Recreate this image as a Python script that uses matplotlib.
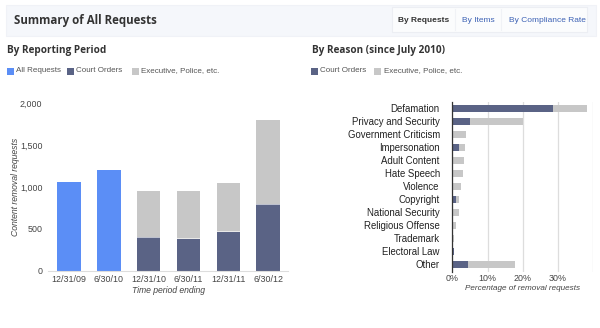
import matplotlib
matplotlib.use("Agg")
import matplotlib.pyplot as plt
from matplotlib.patches import Rectangle

plt.rcParams['font.family'] = ['Liberation Sans', 'DejaVu Sans']

# ---------------- data ----------------
periods = ["12/31/09", "6/30/10", "12/31/10", "6/30/11", "12/31/11", "6/30/12"]
all_requests = [1063, 1197, 0, 0, 0, 0]
period_court = [0, 0, 401, 385, 468, 794]
period_exec = [0, 0, 551, 565, 576, 1004]
left_yticks = [0, 500, 1000, 1500, 2000]
left_yticklabels = ["0", "500", "1,000", "1,500", "2,000"]

reasons = ["Defamation", "Privacy and Security", "Government Criticism", "Impersonation",
           "Adult Content", "Hate Speech", "Violence", "Copyright", "National Security",
           "Religious Offense", "Trademark", "Electoral Law", "Other"]
reason_court = [28.6, 4.9, 0.0, 1.9, 0.3, 0.2, 0.0, 1.1, 0.1, 0.1, 0.3, 0.5, 4.4]
reason_exec = [9.6, 15.2, 3.9, 1.7, 3.1, 2.7, 2.6, 0.8, 1.7, 0.9, 0.1, 0.1, 13.4]
right_xticks = [0, 10, 20, 30, 40]
right_xticklabels = ["0%", "10%", "20%", "30%", ""]

BLUE = "#5b8ef6"
NAVY = "#5a6385"
GRAY = "#c7c7c7"
W, H = 600, 328

fig = plt.figure(figsize=(6, 3.28), dpi=100)
fig.patch.set_facecolor("white")

def fx(px):
    return px / W

def fy(py):
    return 1 - py / H

# ---------------- header ----------------
fig.patches.append(Rectangle((fx(5.5), fy(35.5)), fx(590.5), (30.5) / H, transform=fig.transFigure,
                             facecolor="#f5f7fb", edgecolor="#f0f2f7", lw=0.8))
fig.patches.append(Rectangle((fx(391.5), fy(32)), fx(195), 25 / H, transform=fig.transFigure,
                             facecolor="#fbfcfd", edgecolor="#eceef3", lw=0.8))
fig.text(fx(14), fy(20.5), "Summary of All Requests", family=["Open Sans", "DejaVu Sans"],
         fontweight="bold", fontsize=8.3, color="#333333", va="center", ha="left")
fig.text(fx(398), fy(21), "By Requests", fontsize=6.0, fontweight="bold", color="#333333",
         va="center", ha="left")
fig.text(fx(462.5), fy(21), "By Items", fontsize=6.0, color="#3d62b5", va="center", ha="left")
fig.text(fx(509), fy(21), "By Compliance Rate", fontsize=6.0, color="#3d62b5", va="center", ha="left")
fig.lines.append(plt.Line2D([fx(455), fx(455)], [fy(9), fy(30)], transform=fig.transFigure,
                            color="#f0f2f6", lw=0.8))
fig.lines.append(plt.Line2D([fx(501), fx(501)], [fy(9), fy(30)], transform=fig.transFigure,
                            color="#f0f2f6", lw=0.8))

# section titles
fig.text(fx(7), fy(51), "By Reporting Period", family=["Open Sans", "DejaVu Sans"],
         fontweight="bold", fontsize=7.2, color="#333333", va="center", ha="left")
fig.text(fx(311.5), fy(51), "By Reason (since July 2010)", family=["Open Sans", "DejaVu Sans"],
         fontweight="bold", fontsize=7.2, color="#333333", va="center", ha="left")

# legends
def legend_item(x, y, color, label):
    fig.patches.append(Rectangle((fx(x), fy(y + 3.5)), 7 / W, 7 / H, transform=fig.transFigure,
                                 facecolor=color, edgecolor="none"))
    fig.text(fx(x + 9.5), fy(y), label, fontsize=5.8, color="#555555", va="center", ha="left")

legend_item(6.7, 71, BLUE, "All Requests")
legend_item(67, 71, NAVY, "Court Orders")
legend_item(131.7, 71, GRAY, "Executive, Police, etc.")
legend_item(311, 71, NAVY, "Court Orders")
legend_item(374, 71, GRAY, "Executive, Police, etc.")

# ---------------- left chart ----------------
axL = fig.add_axes([fx(48), fy(271), (288 - 48) / W, (271 - 103) / H])
x = list(range(len(periods)))
bw = 0.59
axL.bar(x, all_requests, width=bw, color=BLUE, edgecolor="none")
axL.bar(x, period_court, width=bw, color=NAVY, edgecolor="none")
axL.bar(x, period_exec, width=bw, bottom=period_court, color=GRAY, edgecolor="none")
axL.bar(x, [8 if c > 0 else 0 for c in period_court], width=bw, bottom=[c - 4 for c in period_court],
        color="white", edgecolor="none", alpha=0.6)
axL.set_xlim(-0.53, 5.5)
axL.set_ylim(0, 2000)
axL.set_yticks(left_yticks)
axL.set_yticklabels(left_yticklabels)
axL.set_xticks(x)
axL.set_xticklabels(periods)
for s in ["top", "right", "left"]:
    axL.spines[s].set_visible(False)
axL.spines["bottom"].set_color("#dddddd")
axL.spines["bottom"].set_linewidth(0.8)
axL.tick_params(axis="both", length=0, labelsize=6.4, colors="#444444")
axL.tick_params(axis="y", pad=4)
axL.tick_params(axis="x", pad=3)
axL.set_xlabel("Time period ending", fontsize=6.2, style="italic", color="#444444", labelpad=1.5)
axL.set_ylabel("Content removal requests", fontsize=6.2, style="italic", color="#444444")
axL.yaxis.set_label_coords(-(48 - 20.5) / 240, 0.5)
axL.patch.set_alpha(0)

# ---------------- right chart ----------------
axR = fig.add_axes([fx(452.3), fy(271.7), (593.3 - 452.3) / W, (271.7 - 101.7) / H])
y = list(range(len(reasons)))
bh = 0.58
axR.barh(y, reason_court, height=bh, color=NAVY, edgecolor="none", zorder=3)
axR.barh(y, reason_exec, height=bh, left=reason_court, color=GRAY, edgecolor="none", zorder=3)
axR.set_xlim(0, 40)
axR.set_ylim(12.57, -0.51)
axR.set_xticks(right_xticks)
axR.set_xticklabels(right_xticklabels)
axR.set_yticks(y)
axR.set_yticklabels(reasons)
axR.grid(axis="x", color="#dddddd", lw=0.9, zorder=0)
for s in ["top", "right", "bottom"]:
    axR.spines[s].set_visible(False)
axR.spines["left"].set_color("#333333")
axR.spines["left"].set_linewidth(0.9)
axR.spines["left"].set_zorder(4)
axR.tick_params(axis="y", length=0, labelsize=6.9, colors="#222222", pad=9)
axR.tick_params(axis="x", length=0, labelsize=6.4, colors="#444444", pad=2)
axR.set_xlabel("Percentage of removal requests", fontsize=5.9, style="italic", color="#444444")
axR.xaxis.set_label_coords((522.7 - 452.3) / (593.3 - 452.3), -(288 - 271.7) / 170)
axR.xaxis.label.set_va("center")
axR.patch.set_alpha(0)

fig.savefig("out.png", dpi=100, facecolor="white")
